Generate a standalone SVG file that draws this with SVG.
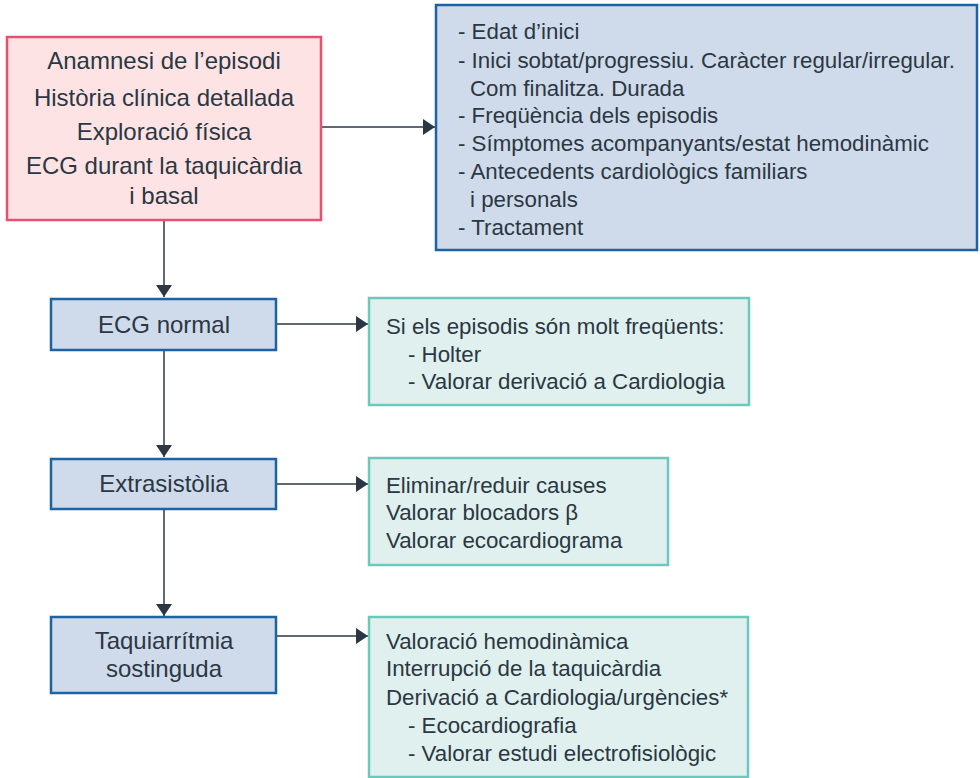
<svg xmlns="http://www.w3.org/2000/svg" width="980" height="778" viewBox="0 0 980 778">
<defs>
<style>
text{font-family:"Liberation Sans",Arial,sans-serif;fill:#2b3742;font-size:22.3px}
.c{text-anchor:middle;font-size:24px}
.pink{fill:#fde3e4;stroke:#e8506f;stroke-width:2.5}
.blue{fill:#cfdbea;stroke:#1d62a3;stroke-width:2.5}
.teal{fill:#dff0ee;stroke:#6bc8bb;stroke-width:2.5}
.con{stroke:#2b3742;stroke-width:1.5;fill:none}
</style>
<marker id="ah" markerWidth="12" markerHeight="16" refX="12" refY="8" orient="auto" markerUnits="userSpaceOnUse">
<path d="M0,0 L12,8 L0,16 Z" fill="#2b3742"/>
</marker>
</defs>
<g id="connectors">
<path class="con" d="M321,127 H435" marker-end="url(#ah)"/>
<path class="con" d="M164,220 V297" marker-end="url(#ah)"/>
<path class="con" d="M276,324 H368" marker-end="url(#ah)"/>
<path class="con" d="M164,350 V457" marker-end="url(#ah)"/>
<path class="con" d="M276,484 H368" marker-end="url(#ah)"/>
<path class="con" d="M164,509 V616" marker-end="url(#ah)"/>
<path class="con" d="M276,636 H368" marker-end="url(#ah)"/>
</g>
<g id="n1">
<rect class="pink" x="7" y="37" width="314" height="183"/>
<text class="c" x="164" y="69">Anamnesi de l’episodi</text>
<text class="c" x="164" y="106">Història clínica detallada</text>
<text class="c" x="164" y="140">Exploració física</text>
<text class="c" x="164" y="174">ECG durant la taquicàrdia</text>
<text class="c" x="164" y="204">i basal</text>
</g>
<g id="n2">
<rect class="blue" x="436" y="5" width="541" height="245"/>
<text x="458" y="39">- Edat d’inici</text>
<text x="458" y="68">- Inici sobtat/progressiu. Caràcter regular/irregular.</text>
<text x="470" y="96">Com finalitza. Durada</text>
<text x="458" y="123">- Freqüència dels episodis</text>
<text x="458" y="151">- Símptomes acompanyants/estat hemodinàmic</text>
<text x="458" y="179">- Antecedents cardiològics familiars</text>
<text x="470" y="207">i personals</text>
<text x="458" y="235">- Tractament</text>
</g>
<g id="n3">
<rect class="blue" x="51" y="299" width="225" height="51"/>
<text class="c" x="164" y="333">ECG normal</text>
</g>
<g id="n4">
<rect class="teal" x="369" y="298" width="380" height="107"/>
<text x="386" y="334">Si els episodis són molt freqüents:</text>
<text x="408" y="362">- Holter</text>
<text x="408" y="389">- Valorar derivació a Cardiologia</text>
</g>
<g id="n5">
<rect class="blue" x="51" y="459" width="225" height="50"/>
<text class="c" x="164" y="492">Extrasistòlia</text>
</g>
<g id="n6">
<rect class="teal" x="369" y="458" width="299" height="107"/>
<text x="386" y="493">Eliminar/reduir causes</text>
<text x="386" y="520">Valorar blocadors β</text>
<text x="386" y="548">Valorar ecocardiograma</text>
</g>
<g id="n7">
<rect class="blue" x="51" y="617" width="225" height="76"/>
<text class="c" x="164" y="649">Taquiarrítmia</text>
<text class="c" x="164" y="677">sostinguda</text>
</g>
<g id="n8">
<rect class="teal" x="369" y="617" width="379" height="160"/>
<text x="386" y="649">Valoració hemodinàmica</text>
<text x="386" y="676">Interrupció de la taquicàrdia</text>
<text x="386" y="705">Derivació a Cardiologia/urgències*</text>
<text x="408" y="733">- Ecocardiografia</text>
<text x="408" y="761">- Valorar estudi electrofisiològic</text>
</g>
</svg>
